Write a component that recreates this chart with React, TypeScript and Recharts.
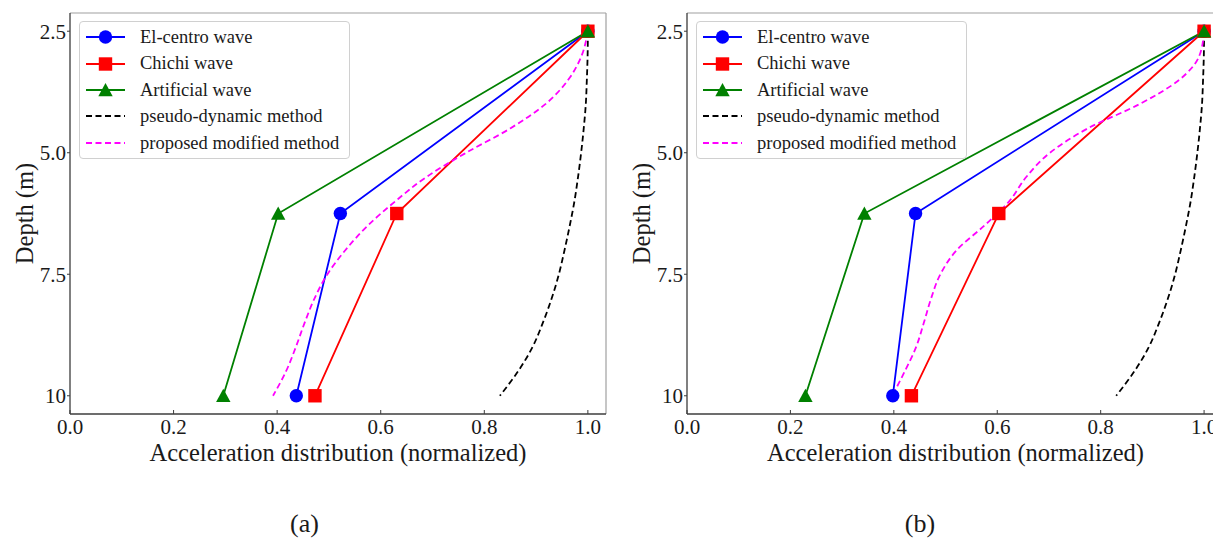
import React from "react";
import { Label, Legend, Line, LineChart, ReferenceLine, XAxis, YAxis } from "recharts";

const FONT = '"Liberation Serif", "Times New Roman", serif';
const INK = "#1a1a1a";
const AXIS = "#3c3c3c";
const FRAME = "#a0a0a0";

// depths of the three recorded points (m)
const DEPTHS = [2.5, 6.25, 10];
// depths sampled along the two analytical curves (m)
const CURVE_DEPTHS = [2.5, 3, 3.5, 4, 4.5, 5, 5.5, 6, 6.5, 7, 7.5, 8, 8.5, 9, 9.5, 10];

const X_TICKS = [0, 0.2, 0.4, 0.6, 0.8, 1.0];
const Y_TICKS = [2.5, 5, 7.5, 10];
const Y_TICK_LABELS = ["2.5", "5.0", "7.5", "10"];
const Y_DOMAIN = [2.125, 10.375];

const LEGEND_LABELS = [
  "El-centro wave",
  "Chichi wave",
  "Artificial wave",
  "pseudo-dynamic method",
  "proposed modified method",
];

// panel (a)
const A_ELCENTRO = [1.0, 0.522, 0.437];
const A_CHICHI = [1.0, 0.631, 0.473];
const A_ARTIFICIAL = [1.0, 0.402, 0.296];
const A_PSEUDO = [1.0, 0.9995, 0.998, 0.996, 0.992, 0.987, 0.981, 0.974, 0.965, 0.955, 0.944, 0.93, 0.913, 0.893, 0.865, 0.83];
const A_PROPOSED = [1.0, 0.988, 0.962, 0.918, 0.85, 0.765, 0.688, 0.628, 0.575, 0.532, 0.497, 0.472, 0.453, 0.436, 0.417, 0.392];

// panel (b)
const B_ELCENTRO = [1.0, 0.442, 0.398];
const B_CHICHI = [1.0, 0.603, 0.434];
const B_ARTIFICIAL = [1.0, 0.343, 0.229];
const B_PSEUDO = [1.0, 0.9995, 0.998, 0.996, 0.992, 0.987, 0.981, 0.974, 0.965, 0.955, 0.944, 0.93, 0.913, 0.893, 0.865, 0.83];
const B_PROPOSED = [1.0, 0.991, 0.952, 0.875, 0.775, 0.702, 0.656, 0.623, 0.575, 0.522, 0.49, 0.472, 0.458, 0.443, 0.421, 0.397];

const COLORS = {
  elcentro: "#0000ff",
  chichi: "#ff0000",
  artificial: "#008000",
  pseudo: "#000000",
  proposed: "#ff00ff",
};

type Pt = { x: number; y: number };
const toPoints = (xs: number[], depths: number[]): Pt[] => xs.map((x, i) => ({ x, y: depths[i] }));

type Marker = "circle" | "square" | "triangle";

function markerShape(kind: Marker, cx: number, cy: number, color: string, key?: React.Key) {
  if (kind === "circle") return <circle key={key} cx={cx} cy={cy} r={6.7} fill={color} />;
  if (kind === "square")
    return <rect key={key} x={cx - 6.7} y={cy - 6.7} width={13.4} height={13.4} fill={color} />;
  return (
    <path
      key={key}
      d={`M${cx},${cy - 7} L${cx + 7.2},${cy + 6.2} L${cx - 7.2},${cy + 6.2} Z`}
      fill={color}
    />
  );
}

const dotFor = (kind: Marker, color: string) => (p: any) =>
  markerShape(kind, p.cx, p.cy, color, `${kind}-${p.index}`);

function XTick(props: any) {
  const { x, y, payload } = props;
  return (
    <g>
      <line x1={x} x2={x} y1={y} y2={y - 4} stroke={AXIS} strokeWidth={1} />
      <text x={x} y={y + 20} textAnchor="middle" fontFamily={FONT} fontSize={21} fill={INK}>
        {Number(payload.value).toFixed(1)}
      </text>
    </g>
  );
}

const XTitle = (props: any) => {
  const vb = props.viewBox;
  return (
    <text
      x={vb.x + vb.width / 2}
      y={vb.y + 47}
      textAnchor="middle"
      fontFamily={FONT}
      fontSize={24.5}
      fill={INK}
    >
      Acceleration distribution (normalized)
    </text>
  );
};

const YTitle = (props: any) => {
  const vb = props.viewBox;
  const cx = vb.x + 24;
  const cy = vb.y + vb.height / 2;
  return (
    <text
      x={cx}
      y={cy}
      transform={`rotate(-90, ${cx}, ${cy})`}
      textAnchor="middle"
      dominantBaseline="central"
      fontFamily={FONT}
      fontSize={24.5}
      fill={INK}
    >
      Depth (m)
    </text>
  );
};

function LegendBox() {
  const handles: { marker?: Marker; color: string; dashed?: boolean }[] = [
    { marker: "circle", color: COLORS.elcentro },
    { marker: "square", color: COLORS.chichi },
    { marker: "triangle", color: COLORS.artificial },
    { color: COLORS.pseudo, dashed: true },
    { color: COLORS.proposed, dashed: true },
  ];
  return (
    <div
      style={{
        border: "1px solid #d0d0d0",
        borderRadius: 4,
        background: "rgba(255,255,255,0.85)",
        padding: "2px 10px 2px 6px",
        fontFamily: FONT,
        fontSize: 18.5,
        color: INK,
      }}
    >
      {LEGEND_LABELS.map((label, i) => {
        const h = handles[i];
        return (
          <div key={label} style={{ display: "flex", alignItems: "center", height: 26.4 }}>
            <svg width={40} height={20} style={{ marginRight: 14, flex: "none" }}>
              <line
                x1={0}
                x2={39}
                y1={10}
                y2={10}
                stroke={h.color}
                strokeWidth={h.dashed ? 1.8 : 2}
                strokeDasharray={h.dashed ? "6 3.5" : undefined}
              />
              {h.marker && markerShape(h.marker, 19.5, 10, h.color)}
            </svg>
            <span style={{ whiteSpace: "nowrap", lineHeight: 1 }}>{label}</span>
          </div>
        );
      })}
    </div>
  );
}

interface PanelProps {
  width: number;
  xMax: number;
  elcentro: number[];
  chichi: number[];
  artificial: number[];
  pseudo: number[];
  proposed: number[];
}

function Panel({ width, xMax, elcentro, chichi, artificial, pseudo, proposed }: PanelProps) {
  return (
    <LineChart width={width} height={480} margin={{ top: 13, right: 6, bottom: 0, left: 0 }}>
      <XAxis
        type="number"
        dataKey="x"
        domain={[0, xMax]}
        ticks={X_TICKS}
        interval={0}
        allowDataOverflow
        height={66}
        tick={<XTick />}
        tickLine={false}
        tickSize={0}
        tickMargin={0}
        axisLine={{ stroke: AXIS, strokeWidth: 1.3 }}
      >
        <Label content={XTitle} />
      </XAxis>
      <YAxis
        type="number"
        domain={Y_DOMAIN}
        reversed
        ticks={Y_TICKS}
        interval={0}
        allowDataOverflow
        width={70}
        tickFormatter={(v: number) => Y_TICK_LABELS[Y_TICKS.indexOf(v)]}
        tick={{ fontFamily: FONT, fontSize: 21, fill: INK }}
        tickLine={{ stroke: AXIS, strokeWidth: 1 }}
        tickSize={3}
        tickMargin={1}
        axisLine={{ stroke: AXIS, strokeWidth: 1.3 }}
      >
        <Label content={YTitle} />
      </YAxis>
      <ReferenceLine y={Y_DOMAIN[0]} stroke={FRAME} strokeWidth={1.2} />
      <ReferenceLine x={xMax} stroke={FRAME} strokeWidth={1.2} />
      <Line
        data={toPoints(elcentro, DEPTHS)}
        dataKey="y"
        type="linear"
        stroke={COLORS.elcentro}
        strokeWidth={1.8}
        dot={dotFor("circle", COLORS.elcentro)}
        activeDot={false}
        isAnimationActive={false}
      />
      <Line
        data={toPoints(chichi, DEPTHS)}
        dataKey="y"
        type="linear"
        stroke={COLORS.chichi}
        strokeWidth={1.8}
        dot={dotFor("square", COLORS.chichi)}
        activeDot={false}
        isAnimationActive={false}
      />
      <Line
        data={toPoints(artificial, DEPTHS)}
        dataKey="y"
        type="linear"
        stroke={COLORS.artificial}
        strokeWidth={1.8}
        dot={dotFor("triangle", COLORS.artificial)}
        activeDot={false}
        isAnimationActive={false}
      />
      <Line
        data={toPoints(pseudo, CURVE_DEPTHS)}
        dataKey="y"
        type="monotoneY"
        stroke={COLORS.pseudo}
        strokeWidth={1.8}
        strokeDasharray="6 3.5"
        dot={false}
        activeDot={false}
        isAnimationActive={false}
      />
      <Line
        data={toPoints(proposed, CURVE_DEPTHS)}
        dataKey="y"
        type="monotoneY"
        stroke={COLORS.proposed}
        strokeWidth={1.8}
        strokeDasharray="6 3.5"
        dot={false}
        activeDot={false}
        isAnimationActive={false}
      />
      <Legend
        content={<LegendBox />}
        layout="vertical"
        align="center"
        verticalAlign="middle"
        wrapperStyle={{ left: 79, top: 21, width: "auto", height: "auto" }}
      />
    </LineChart>
  );
}

const captionStyle: React.CSSProperties = {
  position: "absolute",
  top: 511,
  width: 100,
  textAlign: "center",
  fontFamily: FONT,
  fontSize: 26,
  lineHeight: "26px",
  color: INK,
};

export default function App() {
  return (
    <div
      style={{
        position: "absolute",
        left: 0,
        top: 0,
        width: 1213,
        height: 540,
        overflow: "hidden",
        background: "#fff",
      }}
    >
      <div style={{ position: "absolute", left: 0, top: 0 }}>
        <Panel
          width={612}
          xMax={1.035}
          elcentro={A_ELCENTRO}
          chichi={A_CHICHI}
          artificial={A_ARTIFICIAL}
          pseudo={A_PSEUDO}
          proposed={A_PROPOSED}
        />
      </div>
      <div style={{ position: "absolute", left: 617, top: 0 }}>
        <Panel
          width={613}
          xMax={1.0385}
          elcentro={B_ELCENTRO}
          chichi={B_CHICHI}
          artificial={B_ARTIFICIAL}
          pseudo={B_PSEUDO}
          proposed={B_PROPOSED}
        />
      </div>
      <div style={{ ...captionStyle, left: 254.5 }}>(a)</div>
      <div style={{ ...captionStyle, left: 870 }}>(b)</div>
    </div>
  );
}
